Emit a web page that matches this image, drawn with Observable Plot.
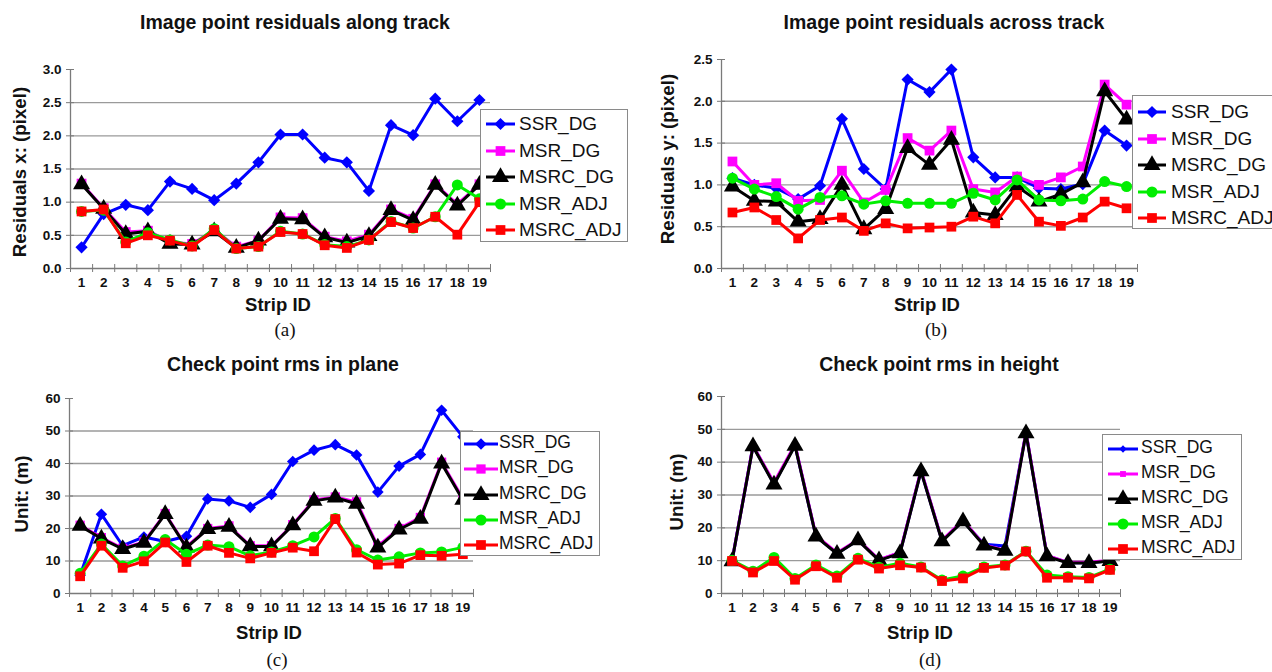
<!DOCTYPE html>
<html>
<head>
<meta charset="utf-8">
<script src="https://cdn.jsdelivr.net/npm/d3@7"></script>
<script src="https://cdn.jsdelivr.net/npm/@observablehq/plot@0.6"></script>
<style>
  body { margin: 0; background: #fff; }
  #root { position: relative; width: 1272px; height: 672px; overflow: hidden;
          font-family: Arial, "Liberation Sans", Helvetica, sans-serif; color: #111; }
  .abs { position: absolute; white-space: nowrap; }
  .ctr { transform: translate(-50%, -50%); }
  .title { font-weight: bold; font-size: 19.5px; }
  .xlab { font-weight: bold; font-size: 18.5px; }
  .ylab { font-weight: bold; font-size: 18.7px; transform: translate(-50%, -50%) rotate(-90deg); }
  .cap { font-family: "Times New Roman", "Liberation Serif", serif; font-size: 19px; }
  .legend { border: 1px solid #8a8a8a; background: #fff; box-sizing: border-box; }
  .legend svg { position: absolute; overflow: visible; }
  .plotwrap svg { overflow: visible; }
</style>
</head>
<body>
<div id="root"></div>
<script>
// ---------- data ----------
const strips = [1,2,3,4,5,6,7,8,9,10,11,12,13,14,15,16,17,18,19];
const seriesNames = ["SSR_DG","MSR_DG","MSRC_DG","MSR_ADJ","MSRC_ADJ"];

// (a) Image point residuals along track
const a_SSR_DG   = [0.32,0.82,0.96,0.88,1.31,1.20,1.03,1.28,1.60,2.02,2.02,1.67,1.60,1.17,2.16,2.01,2.56,2.22,2.54];
const a_MSR_DG   = [1.28,0.91,0.55,0.57,0.40,0.37,0.58,0.33,0.42,0.77,0.76,0.48,0.41,0.51,0.89,0.75,1.27,0.97,1.27];
const a_MSRC_DG  = [1.27,0.90,0.52,0.56,0.37,0.36,0.56,0.31,0.42,0.75,0.74,0.47,0.39,0.49,0.88,0.73,1.26,0.95,1.26];
const a_MSR_ADJ  = [0.86,0.88,0.40,0.54,0.43,0.34,0.60,0.30,0.33,0.56,0.52,0.36,0.33,0.43,0.71,0.61,0.78,1.26,1.05];
const a_MSRC_ADJ = [0.86,0.89,0.38,0.50,0.42,0.33,0.58,0.30,0.33,0.55,0.52,0.35,0.31,0.43,0.70,0.61,0.78,0.51,1.00];

// (b) Image point residuals across track
const b_SSR_DG   = [1.08,1.00,0.96,0.83,0.99,1.79,1.19,0.95,2.26,2.11,2.38,1.33,1.09,1.09,0.96,0.95,1.01,1.65,1.47];
const b_MSR_DG   = [1.28,1.00,1.02,0.81,0.82,1.17,0.79,0.94,1.56,1.41,1.65,0.95,0.91,1.10,1.00,1.09,1.22,2.20,1.96];
const b_MSRC_DG  = [0.98,0.81,0.80,0.56,0.59,1.00,0.47,0.71,1.44,1.24,1.54,0.67,0.64,0.98,0.80,0.89,1.03,2.12,1.78];
const b_MSR_ADJ  = [1.08,0.95,0.86,0.71,0.85,0.87,0.77,0.81,0.78,0.78,0.78,0.90,0.82,1.06,0.82,0.81,0.83,1.04,0.98];
const b_MSRC_ADJ = [0.67,0.73,0.58,0.36,0.58,0.61,0.45,0.54,0.48,0.49,0.50,0.62,0.54,0.88,0.56,0.51,0.61,0.80,0.72];

// (c) Check point rms in plane
const c_SSR_DG   = [5.6,24.4,14.7,17.4,16.0,17.6,29.1,28.5,26.5,30.5,40.6,44.1,45.8,42.6,31.2,39.2,42.8,56.4,48.2];
const c_MSR_DG   = [21.0,17.2,13.9,15.9,24.6,14.4,20.0,20.8,14.7,14.7,21.2,28.8,29.7,28.2,14.6,20.0,23.4,40.4,29.2];
const c_MSRC_DG  = [20.8,16.9,13.7,15.6,24.4,14.1,19.8,20.5,14.5,14.5,21.0,28.5,29.5,27.6,14.1,19.7,23.0,40.0,28.8];
const c_MSR_ADJ  = [6.2,15.2,8.5,11.5,16.6,12.1,14.9,14.4,11.6,12.8,14.7,17.4,23.1,13.5,10.3,11.3,12.5,12.8,14.2];
const c_MSRC_ADJ = [5.3,14.7,7.9,9.9,15.7,9.7,14.7,12.5,10.8,12.5,14.1,13.0,22.9,12.6,8.9,9.2,11.8,11.6,12.1];

// (d) Check point rms in height
const d_SSR_DG   = [9.9,45.0,33.4,45.2,17.4,12.2,16.3,10.2,12.4,37.4,16.1,22.1,15.0,14.5,49.0,11.5,9.4,9.4,10.0];
const d_MSR_DG   = [9.9,45.0,33.8,45.4,17.6,12.4,16.4,10.3,12.5,37.6,16.2,22.4,14.8,13.2,49.2,11.6,9.5,9.5,10.1];
const d_MSRC_DG  = [9.8,44.8,33.2,45.0,17.3,12.1,16.2,10.1,12.2,37.2,15.9,22.0,14.6,13.0,48.8,11.3,9.3,9.3,9.9];
const d_MSR_ADJ  = [10.1,6.8,11.0,4.6,8.7,5.3,10.7,8.0,9.2,8.1,4.1,5.3,8.1,8.7,12.9,5.6,5.1,4.9,7.4];
const d_MSRC_ADJ = [9.9,6.4,9.9,4.2,8.3,4.8,10.3,7.6,8.6,7.9,3.8,4.6,7.8,8.5,12.8,4.8,4.8,4.6,7.2];

const ab_yTicksA = [0,0.5,1,1.5,2,2.5,3];
const ab_yTicksB = [0,0.5,1,1.5,2,2.5];
const cd_yTicks  = [0,10,20,30,40,50,60];

// ---------- styling ----------
const seriesColors  = ["#0000ff","#ff00ff","#000000","#00ee00","#ff0000"];
const seriesSymbols = ["diamond2","square","triangle","circle","square"];
const symbolTypes = {diamond2: d3.symbolDiamond2, square: d3.symbolSquare, triangle: d3.symbolTriangle, circle: d3.symbolCircle};

const panels = [
  { title: "Image point residuals along track", ylabel: "Residuals x: (pixel)", caption: "(a)",
    series: [a_SSR_DG, a_MSR_DG, a_MSRC_DG, a_MSR_ADJ, a_MSRC_ADJ],
    yDomain: [0, 3], yTicks: ab_yTicksA, fmt: ".1f",
    svg: {left: 0, top: 40, width: 636, height: 260}, m: {l: 70, r: 146, t: 29, b: 32},
    titlePos: [295, 22], yLabPos: [20, 172], xLabPos: [278, 305], capPos: [285, 330],
    legend: {x: 480, y: 109, w: 148, h: 133, first: 14, step: 26.5, font: 19, lx0: 5, lx1: 34, tx: 38},
    rScale: [1, 1, 1, 1, 1] },
  { title: "Image point residuals across track", ylabel: "Residuals y: (pixel)", caption: "(b)",
    series: [b_SSR_DG, b_MSR_DG, b_MSRC_DG, b_MSR_ADJ, b_MSRC_ADJ],
    yDomain: [0, 2.5], yTicks: ab_yTicksB, fmt: ".1f",
    svg: {left: 640, top: 40, width: 632, height: 260}, m: {l: 81, r: 135, t: 19, b: 32},
    titlePos: [944, 22], yLabPos: [668, 159], xLabPos: [927, 305], capPos: [936, 330],
    legend: {x: 1132, y: 95, w: 142, h: 134, first: 16, step: 26.5, font: 19, lx0: 5, lx1: 33, tx: 38},
    rScale: [1, 1, 1, 1, 1] },
  { title: "Check point rms in plane", ylabel: "Unit: (m)", caption: "(c)",
    series: [c_SSR_DG, c_MSR_DG, c_MSRC_DG, c_MSR_ADJ, c_MSRC_ADJ],
    yDomain: [0, 60], yTicks: cd_yTicks, fmt: "d",
    svg: {left: 0, top: 380, width: 636, height: 250}, m: {l: 69, r: 163, t: 18, b: 37},
    titlePos: [283, 364], yLabPos: [22, 494], xLabPos: [269, 633], capPos: [277, 660],
    legend: {x: 460, y: 431, w: 140, h: 125, first: 12, step: 25.3, font: 17.5, lx0: 3, lx1: 37, tx: 38},
    rScale: [0.95, 0.95, 1, 1, 1] },
  { title: "Check point rms in height", ylabel: "Unit: (m)", caption: "(d)",
    series: [d_SSR_DG, d_MSR_DG, d_MSRC_DG, d_MSR_ADJ, d_MSRC_ADJ],
    yDomain: [0, 60], yTicks: cd_yTicks, fmt: "d",
    svg: {left: 640, top: 380, width: 632, height: 250}, m: {l: 81, r: 152, t: 16, b: 37},
    titlePos: [939, 364], yLabPos: [677, 492], xLabPos: [920, 633], capPos: [930, 660],
    legend: {x: 1102, y: 434, w: 140, h: 126, first: 14, step: 25, font: 17.5, lx0: 5, lx1: 35, tx: 38},
    rScale: [0.6, 0.6, 1, 1, 1] }
];

const root = document.getElementById("root");
const baseR = 5.5;
const boundaries = d3.range(0.5, strips.length + 1, 1);

function addText(cls, text, x, y) {
  const el = document.createElement("div");
  el.className = "abs " + cls;
  if (cls !== "ylab") el.classList.add("ctr");
  el.style.left = x + "px";
  el.style.top = y + "px";
  el.textContent = text;
  root.appendChild(el);
  return el;
}

function symbolPath(name, size) {
  return d3.symbol(symbolTypes[name], size)();
}

function markerR(p, i) {
  return baseR * p.rScale[i] * (seriesSymbols[i] === "triangle" ? 1.15 : 1);
}

panels.forEach(p => {
  const [ymin, ymax] = p.yDomain;
  const marks = [
    Plot.gridY(p.yTicks.filter(t => t > ymin && t < ymax), {stroke: "#9a9a9a", strokeOpacity: 1, strokeWidth: 1.4}),
    Plot.ruleX([0.5], {stroke: "#7a7a7a", strokeWidth: 1.3}),
    Plot.ruleY([ymin], {stroke: "#7a7a7a", strokeWidth: 1.3}),
    Plot.axisY(p.yTicks, {tickSize: 8, dx: 4, tickFormat: () => "", stroke: "#7a7a7a", label: null}),
    Plot.axisY(p.yTicks, {tickSize: 0, tickPadding: 9, tickFormat: d3.format(p.fmt), label: null, fill: "#111"}),
    Plot.axisX(boundaries, {tickSize: 8, dy: -4, tickFormat: () => "", stroke: "#7a7a7a", label: null}),
    Plot.axisX(strips, {tickSize: 0, tickPadding: 9, tickFormat: d3.format("d"), label: null, fill: "#111"})
  ];
  p.series.forEach((vals, i) => {
    const data = strips.map((s, j) => ({strip: s, value: vals[j]}));
    marks.push(Plot.line(data, {x: "strip", y: "value", stroke: seriesColors[i], strokeWidth: 3}));
    marks.push(Plot.dot(data, {x: "strip", y: "value", symbol: seriesSymbols[i], fill: seriesColors[i],
                               stroke: "none", r: markerR(p, i)}));
  });
  const chart = Plot.plot({
    width: p.svg.width, height: p.svg.height,
    marginLeft: p.m.l, marginRight: p.m.r, marginTop: p.m.t, marginBottom: p.m.b,
    x: {type: "linear", domain: [0.5, strips.length + 0.5]},
    y: {type: "linear", domain: p.yDomain},
    style: {fontFamily: 'Arial, "Liberation Sans", sans-serif', fontSize: "13.5px", fontWeight: "bold",
            background: "transparent", color: "#111"},
    marks
  });
  const wrap = document.createElement("div");
  wrap.className = "abs plotwrap";
  wrap.style.left = p.svg.left + "px";
  wrap.style.top = p.svg.top + "px";
  wrap.appendChild(chart);
  root.appendChild(wrap);

  addText("title", p.title, p.titlePos[0], p.titlePos[1]);
  addText("ylab", p.ylabel, p.yLabPos[0], p.yLabPos[1]);
  addText("xlab", "Strip ID", p.xLabPos[0], p.xLabPos[1]);
  addText("cap", p.caption, p.capPos[0], p.capPos[1]);

  // legend
  const L = p.legend;
  const box = document.createElement("div");
  box.className = "abs legend";
  box.style.left = L.x + "px"; box.style.top = L.y + "px";
  box.style.width = L.w + "px"; box.style.height = L.h + "px";
  seriesNames.forEach((name, i) => {
    const cy = L.first + i * L.step;
    const svg = d3.create("svg").attr("width", 40).attr("height", 20)
      .style("left", "0px").style("top", (cy - 10) + "px");
    svg.append("line").attr("x1", L.lx0).attr("x2", L.lx1).attr("y1", 10).attr("y2", 10)
      .attr("stroke", seriesColors[i]).attr("stroke-width", 3);
    const r = markerR(p, i);
    svg.append("path").attr("d", symbolPath(seriesSymbols[i], r * r * Math.PI))
      .attr("transform", `translate(${(L.lx0 + L.lx1) / 2},10)`).attr("fill", seriesColors[i]);
    box.appendChild(svg.node());
    const t = document.createElement("div");
    t.className = "abs";
    t.style.left = L.tx + "px";
    t.style.top = (cy - 1) + "px";
    t.style.transform = "translateY(-50%)";
    t.style.fontSize = L.font + "px";
    t.style.lineHeight = "1";
    t.textContent = name;
    box.appendChild(t);
  });
  root.appendChild(box);
});
</script>
</body>
</html>
